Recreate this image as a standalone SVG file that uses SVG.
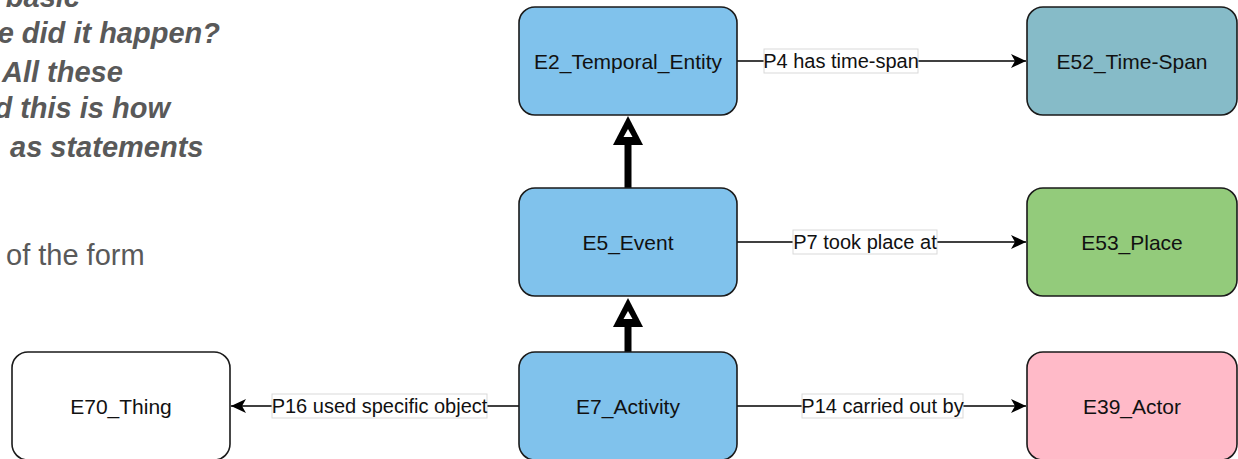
<svg xmlns="http://www.w3.org/2000/svg" width="1238" height="459" viewBox="0 0 1238 459">
  <style>
    .node { stroke: #1a1a1a; stroke-width: 1.6; }
    .ntext { font-family: "Liberation Sans", Arial, sans-serif; font-size: 21px; fill: #111; text-anchor: middle; dominant-baseline: central; }
    .edge { stroke: #000; stroke-width: 1.6; fill: none; }
    .inh { stroke: #000; stroke-width: 7; fill: none; }
    .lbox { fill: #fff; stroke: #d9d9d9; stroke-width: 1; }
    .ltext { font-family: "Liberation Sans", Arial, sans-serif; font-size: 20px; fill: #111; text-anchor: middle; dominant-baseline: central; }
    .bi { font-family: "Liberation Sans", Arial, sans-serif; font-size: 29px; font-weight: bold; font-style: italic; fill: #595959; }
    .plain { font-family: "Liberation Sans", Arial, sans-serif; font-size: 29px; fill: #595959; }
  </style>
  <defs>
    <marker id="arr" markerUnits="userSpaceOnUse" markerWidth="20" markerHeight="20" refX="16" refY="8" orient="auto">
      <path d="M16,8 L1,1 L5,8 L1,15 Z" fill="#000"/>
    </marker>
  </defs>

  <g id="background-text">
    <text class="bi" x="80" y="7" text-anchor="end">basic</text>
    <text class="bi" x="220" y="43" text-anchor="end">e did it happen?</text>
    <text class="bi" x="2" y="82">All these</text>
    <text class="bi" x="170" y="118" text-anchor="end">d this is how</text>
    <text class="bi" x="10" y="157">as statements</text>
    <text class="plain" x="6" y="265">of the form</text>
  </g>

  <g id="connectors">
    <!-- inheritance E5 -> E2 -->
    <line class="inh" x1="628" y1="144" x2="628" y2="188"/>
    <polygon points="628,116 613,145 643,145" fill="#000"/>
    <polygon points="628,129 623.5,137 632.5,137" fill="#fff"/>
    <!-- inheritance E7 -> E5 -->
    <line class="inh" x1="628" y1="326" x2="628" y2="352"/>
    <polygon points="628,298 613,327 643,327" fill="#000"/>
    <polygon points="628,311 623.5,319 632.5,319" fill="#fff"/>

    <!-- P4 -->
    <line class="edge" x1="737" y1="61" x2="1026" y2="61" marker-end="url(#arr)"/>
    <rect class="lbox" x="764" y="49" width="154" height="24"/>
    <text class="ltext" x="841" y="61">P4 has time-span</text>
    <!-- P7 -->
    <line class="edge" x1="737" y1="242" x2="1026" y2="242" marker-end="url(#arr)"/>
    <rect class="lbox" x="793" y="230" width="144" height="24"/>
    <text class="ltext" x="865" y="242">P7 took place at</text>
    <!-- P14 -->
    <line class="edge" x1="737" y1="406" x2="1026" y2="406" marker-end="url(#arr)"/>
    <rect class="lbox" x="802" y="394" width="161" height="24"/>
    <text class="ltext" x="882.5" y="406">P14 carried out by</text>
    <!-- P16 -->
    <line class="edge" x1="519" y1="406" x2="231" y2="406" marker-end="url(#arr)"/>
    <rect class="lbox" x="272" y="394" width="215" height="24"/>
    <text class="ltext" x="379.5" y="406">P16 used specific object</text>
  </g>

  <g id="E2">
    <rect class="node" x="519" y="7" width="218" height="108" rx="16" fill="#80c2ec"/>
    <text class="ntext" x="628" y="61">E2_Temporal_Entity</text>
  </g>
  <g id="E52">
    <rect class="node" x="1027" y="7" width="210" height="108" rx="16" fill="#86bbc8"/>
    <text class="ntext" x="1132" y="61">E52_Time-Span</text>
  </g>
  <g id="E5">
    <rect class="node" x="519" y="188" width="218" height="108" rx="16" fill="#80c2ec"/>
    <text class="ntext" x="628" y="242">E5_Event</text>
  </g>
  <g id="E53">
    <rect class="node" x="1027" y="188" width="210" height="108" rx="16" fill="#93cb7b"/>
    <text class="ntext" x="1132" y="242">E53_Place</text>
  </g>
  <g id="E7">
    <rect class="node" x="519" y="352" width="218" height="108" rx="16" fill="#80c2ec"/>
    <text class="ntext" x="628" y="406">E7_Activity</text>
  </g>
  <g id="E39">
    <rect class="node" x="1027" y="352" width="210" height="108" rx="16" fill="#ffbac8"/>
    <text class="ntext" x="1132" y="406">E39_Actor</text>
  </g>
  <g id="E70">
    <rect class="node" x="12" y="352" width="218" height="108" rx="16" fill="#ffffff"/>
    <text class="ntext" x="121" y="406">E70_Thing</text>
  </g>
</svg>
